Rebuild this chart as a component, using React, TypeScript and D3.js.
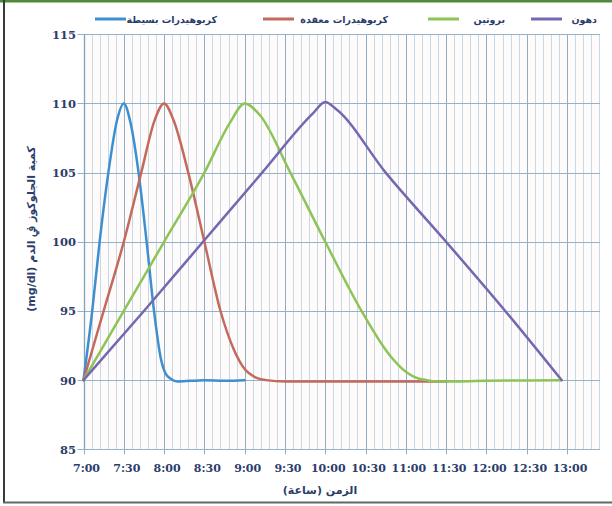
import React from "react";
import * as d3 from "d3";

const W = 612;
const H = 506;

const seriesNames = ["كربوهيدرات بسيطة", "كربوهيدرات معقدة", "بروتين", "دهون"];
const seriesColors = ["#3d8fcf", "#c46a5c", "#8dc457", "#7468b0"];

// minutes after 7:00, glucose mg/dl
const simpleCarbs: [number, number][] = [
  [0, 90], [6.5, 95], [12, 100], [18.5, 105], [25, 108.8], [30, 110], [35, 108.6], [41, 105],
  [47, 100], [52.5, 95], [57.5, 91.6], [61, 90.5], [65, 90.1], [70, 89.9], [90, 90], [105, 89.95], [120, 90],
];
const complexCarbs: [number, number][] = [
  [0, 90], [15, 95], [30, 100], [43, 105], [53, 108.8], [60, 110], [67, 108.8], [78, 105],
  [90, 100], [102, 95], [112, 92.2], [120, 90.8], [128, 90.2], [136, 90], [150, 89.9], [200, 89.9], [270, 89.9],
];
const protein: [number, number][] = [
  [0, 90], [30, 95], [60, 100], [90, 105], [109, 108.6], [120, 110], [131, 109.2], [154, 105],
  [180, 100], [207, 95], [228, 91.8], [240, 90.6], [250, 90.1], [266, 89.9], [300, 89.95], [356, 90],
];
const fats: [number, number][] = [
  [0, 90], [45, 95], [89, 100], [133, 105], [171, 109.3], [180, 110.1], [188, 109.6], [225, 105],
  [270, 100], [314, 95], [356, 90],
];
const allSeries = [simpleCarbs, complexCarbs, protein, fats];

const yTicks = [85, 90, 95, 100, 105, 110, 115];
const xTickLabels = ["7:00", "7:30", "8:00", "8:30", "9:00", "9:30", "10:00", "10:30", "11:00", "11:30", "12:00", "12:30", "13:00"];
const yTitle = "كمية الجلوكوز ﰲ الدم (mg/dl)";
const xTitle = "الزمن (ساعة)";

const legendLineX = [95, 263, 428, 531];
const legendTextX = [217, 388, 505, 597];

export default function App() {
  const x = d3.scaleLinear().domain([0, 360]).range([83.5, 567]);
  const y = d3.scaleLinear().domain([85, 115]).range([449.3, 34.3]);
  const xEnd = 600;
  const minor = d3.range(0, 385, 6);
  const snap = (v: number) => Math.round(v) + 0.5;
  const line = d3
    .line<[number, number]>()
    .x((d) => x(d[0]))
    .y((d) => y(d[1]))
    .curve(d3.curveMonotoneX);
  const navy = "#2b3d6b";
  const serif = "'DejaVu Serif', 'Liberation Serif', serif";
  const arab = "'DejaVu Sans', sans-serif";

  return (
    <svg width={W} height={H} style={{ position: "absolute", left: 0, top: 0 }}>
      <rect x={0} y={0} width={W} height={H} fill="#ffffff" />
      <rect x={x(0)} y={y(115)} width={xEnd - x(0)} height={y(85) - y(115)} fill="#fefbfa" />
      {/* frame */}
      <rect x={0} y={0} width={W} height={2.5} fill="#4f8a3a" />
      <rect x={3} y={0} width={2} height={503} fill="#3a3a3a" />
      <rect x={3} y={501.5} width={W} height={2} fill="#666" />

      {/* vertical grid */}
      {minor.map((m) => {
        const major = m % 30 === 0;
        const px = snap(x(m));
        return (
          <line
            key={"v" + m}
            x1={px}
            x2={px}
            y1={y(115)}
            y2={major ? y(85) + 5 : y(85)}
            stroke={major ? "#8eadc6" : "#c6d9e8"}
            strokeWidth={1}
          />
        );
      })}
      {/* horizontal grid */}
      {yTicks.map((v) => (
        <line key={"h" + v} x1={x(0) - 6} x2={xEnd} y1={snap(y(v))} y2={snap(y(v))} stroke="#93b2c8" strokeWidth={1.2} />
      ))}
      <line x1={snap(x(0))} x2={snap(x(0))} y1={y(115)} y2={y(85)} stroke="#7fa2bf" strokeWidth={1.3} />

      {/* y tick labels */}
      {yTicks.map((v) => (
        <text key={"yl" + v} x={76} y={y(v) + 4.5} textAnchor="end" fontFamily={serif} fontWeight="bold" fontSize={11.5} fill={navy}>
          {v}
        </text>
      ))}
      {/* x tick labels */}
      {xTickLabels.map((t, i) => (
        <text key={"xl" + t} x={x(i * 30) + 3} y={472} textAnchor="middle" fontFamily={serif} fontWeight="bold" fontSize={11} fill={navy}>
          {t}
        </text>
      ))}

      {/* axis titles */}
      <text x={320} y={494} textAnchor="middle" fontFamily={arab} fontWeight="bold" fontSize={11} fill={navy} direction="rtl">
        {xTitle}
      </text>
      <text
        transform={`translate(35,229) rotate(-90)`}
        textAnchor="middle"
        direction="rtl"
        style={{ direction: "rtl", unicodeBidi: "embed" }}
        fontFamily={arab}
        fontWeight="bold"
        fontSize={11}
        fill={navy}
      >
        {yTitle}
      </text>

      {/* curves */}
      {allSeries.map((s, i) => (
        <path key={"s" + i} d={line(s) || ""} fill="none" stroke={seriesColors[i]} strokeWidth={2.5} strokeLinejoin="round" strokeLinecap="round" />
      ))}

      {/* legend */}
      {seriesNames.map((n, i) => (
        <g key={"lg" + i}>
          <line x1={legendLineX[i]} x2={legendLineX[i] + 31} y1={19} y2={19} stroke={seriesColors[i]} strokeWidth={3} />
          <text x={legendTextX[i]} y={22.5} textAnchor="end" fontFamily={arab} fontWeight="bold" fontSize={9.5} fill={navy}>
            {n}
          </text>
        </g>
      ))}
    </svg>
  );
}
